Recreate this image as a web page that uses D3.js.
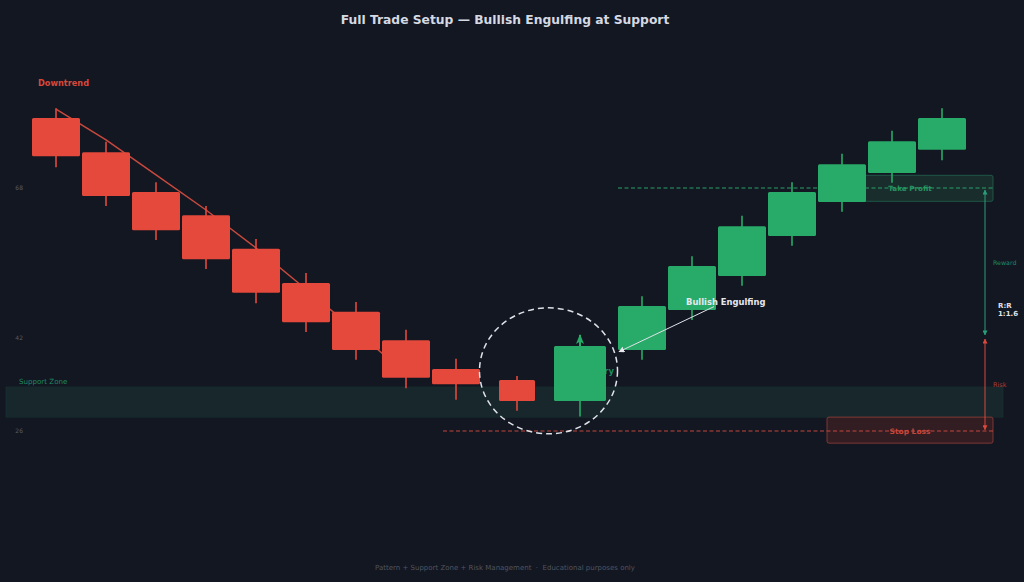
<!DOCTYPE html>
<html>
<head>
<meta charset="utf-8">
<script src="https://cdn.jsdelivr.net/npm/d3@7"></script>
<style>
  html, body { margin: 0; padding: 0; background: #131722; }
  svg { display: block; }
  text { font-family: "DejaVu Sans", sans-serif; }
  .axis text { font-size: 6px; fill: #565b68; }
</style>
</head>
<body>
<svg id="chart" width="1024" height="582"></svg>
<script>
// candle positions along the time axis (the gaps widen around the pattern)
const slots = [0, 1, 2, 3, 4, 5, 6, 7, 8, 9.22, 10.48, 11.72, 12.72, 13.72, 14.72, 15.72, 16.72, 17.72];
const opens = [80.1, 74.2, 67.3, 63.3, 57.5, 51.6, 46.6, 41.7, 36.7, 34.8, 31.2, 40.0, 46.9, 52.8, 59.7, 65.6, 70.6, 74.6];
const closes = [73.5, 66.6, 60.7, 55.7, 49.9, 44.8, 40.0, 35.2, 34.1, 31.2, 40.7, 47.6, 54.5, 61.4, 67.3, 72.1, 76.1, 80.1];
const highs = [81.8, 76.0, 69.0, 64.9, 59.2, 53.3, 48.3, 43.5, 38.5, 35.5, 40.7, 49.3, 56.2, 63.2, 69.0, 73.9, 77.9, 81.8];
const lows = [71.6, 64.9, 59.0, 54.0, 48.1, 43.1, 38.3, 33.4, 31.4, 29.5, 28.5, 38.3, 45.2, 51.1, 58.0, 63.9, 68.9, 72.8];
const trendValues = [81.65, 76.3, 70.25, 64.2, 57.63, 50.5, 43.3, 35.9];
const yTicks = [68, 42, 26];

const takeProfit = 68;
const stopLoss = 26;
const supportZone = [28.4, 33.6];
const takeProfitBox = [65.7, 70.2];
const stopLossBox = [23.9, 28.4];

const RED = '#e4493b';
const GREEN = '#28ab68';
const BG = '#131722';

const svg = d3.select('#chart');
const x = d3.scaleLinear().domain([0, 1]).range([56, 106]);
const y = d3.scaleLinear().domain([26, 68]).range([431, 188]);

svg.append('rect').attr('width', 1024).attr('height', 582).attr('fill', BG);

const defs = svg.append('defs');
function addHead(id, color, size, shape) {
  defs.append('marker')
    .attr('id', id)
    .attr('viewBox', '0 0 10 10')
    .attr('refX', 9)
    .attr('refY', 5)
    .attr('markerUnits', 'userSpaceOnUse')
    .attr('markerWidth', size)
    .attr('markerHeight', size)
    .attr('orient', 'auto-start-reverse')
    .append('path')
    .attr('d', shape || 'M0,0L10,5L0,10Z')
    .attr('fill', color);
}
addHead('headGreen', '#2a9d78', 5);
addHead('headRed', '#d9483b', 5);
addHead('headWhite', '#e6e8ee', 6);
addHead('headEntry', GREEN, 10, 'M0,1L10,5L0,9L2.5,5Z');

// price labels, no axis line or ticks
svg.append('g')
  .attr('class', 'axis')
  .attr('transform', 'translate(23,-0.5)')
  .call(d3.axisLeft(y).tickValues(yTicks).tickSize(0).tickPadding(0))
  .call(g => g.select('.domain').remove());

// support zone
svg.append('rect')
  .attr('x', x(-1))
  .attr('y', y(supportZone[1]))
  .attr('width', x(18.94) - x(-1))
  .attr('height', y(supportZone[0]) - y(supportZone[1]))
  .attr('fill', '#17272b')
  .attr('stroke', '#1a3534')
  .attr('stroke-width', 0.6);

svg.append('text')
  .attr('x', 19)
  .attr('y', 384)
  .attr('font-size', 7.1)
  .attr('fill', '#1f8a62')
  .text('Support Zone');

svg.append('text')
  .attr('x', 38)
  .attr('y', 86)
  .attr('font-size', 8.2)
  .attr('font-weight', 'bold')
  .attr('fill', '#d9483b')
  .text('Downtrend');

// take profit / stop loss boxes
svg.append('rect')
  .attr('x', x(15.42))
  .attr('y', y(takeProfitBox[1]))
  .attr('width', x(18.74) - x(15.42))
  .attr('height', y(takeProfitBox[0]) - y(takeProfitBox[1]))
  .attr('rx', 2)
  .attr('fill', '#192d2c')
  .attr('stroke', '#23664f')
  .attr('stroke-width', 0.8);

svg.append('rect')
  .attr('x', x(15.42))
  .attr('y', y(stopLossBox[1]))
  .attr('width', x(18.74) - x(15.42))
  .attr('height', y(stopLossBox[0]) - y(stopLossBox[1]))
  .attr('rx', 2)
  .attr('fill', '#311d22')
  .attr('stroke', '#96403a')
  .attr('stroke-width', 0.8);

svg.append('text')
  .attr('x', x(17.08))
  .attr('y', y(takeProfit) + 3)
  .attr('text-anchor', 'middle')
  .attr('font-size', 7.2)
  .attr('font-weight', 'bold')
  .attr('fill', '#27935f')
  .text('Take Profit');

svg.append('text')
  .attr('x', x(17.08))
  .attr('y', y(stopLoss) + 3)
  .attr('text-anchor', 'middle')
  .attr('font-size', 7.5)
  .attr('font-weight', 'bold')
  .attr('fill', '#c9453a')
  .text('Stop Loss');

svg.append('line')
  .attr('x1', x(11.24))
  .attr('x2', x(18.74))
  .attr('y1', y(takeProfit))
  .attr('y2', y(takeProfit))
  .attr('stroke', '#28a068')
  .attr('stroke-width', 1)
  .attr('stroke-dasharray', '4,2.5');

svg.append('line')
  .attr('x1', x(7.74))
  .attr('x2', x(18.74))
  .attr('y1', y(stopLoss))
  .attr('y2', y(stopLoss))
  .attr('stroke', '#c4473d')
  .attr('stroke-width', 1)
  .attr('stroke-dasharray', '4,2.5');

// trend line sits behind the candles
const trendLine = d3.line()
  .x((d, i) => x(slots[i]))
  .y(d => y(d));

svg.append('path')
  .datum(trendValues)
  .attr('fill', 'none')
  .attr('stroke', '#c8493d')
  .attr('stroke-width', 1.5)
  .attr('d', trendLine);

// mostly covered by the engulfing candle in the original too
svg.append('text')
  .attr('x', 614)
  .attr('y', 374)
  .attr('text-anchor', 'end')
  .attr('font-size', 8.5)
  .attr('font-weight', 'bold')
  .attr('fill', '#1f8a62')
  .text('Entry');

// candles
const bodyWidth = i => (i === 9 ? 36 : i === 10 ? 52 : 48);
const candles = svg.append('g')
  .selectAll('g')
  .data(slots)
  .join('g')
  .attr('fill', (d, i) => (closes[i] >= opens[i] ? GREEN : RED))
  .attr('stroke', (d, i) => (closes[i] >= opens[i] ? GREEN : RED));

candles.append('line')
  .attr('x1', d => x(d))
  .attr('x2', d => x(d))
  .attr('y1', (d, i) => y(highs[i]))
  .attr('y2', (d, i) => y(lows[i]))
  .attr('stroke-width', 1.6);

candles.append('rect')
  .attr('x', (d, i) => x(d) - bodyWidth(i) / 2)
  .attr('y', (d, i) => y(Math.max(opens[i], closes[i])))
  .attr('width', (d, i) => bodyWidth(i))
  .attr('height', (d, i) => Math.abs(y(opens[i]) - y(closes[i])))
  .attr('rx', 1.5)
  .attr('stroke', 'none');

// entry arrow on top of the big candle
svg.append('line')
  .attr('x1', x(10.48))
  .attr('x2', x(10.48))
  .attr('y1', y(40.7))
  .attr('y2', y(42.6))
  .attr('stroke', GREEN)
  .attr('stroke-width', 2)
  .attr('marker-end', 'url(#headEntry)');

// reward / risk
svg.append('line')
  .attr('x1', x(18.58))
  .attr('x2', x(18.58))
  .attr('y1', y(42.6))
  .attr('y2', y(67.65))
  .attr('stroke', '#2a9d78')
  .attr('stroke-width', 1)
  .attr('marker-start', 'url(#headGreen)')
  .attr('marker-end', 'url(#headGreen)');

svg.append('line')
  .attr('x1', x(18.58))
  .attr('x2', x(18.58))
  .attr('y1', y(26.2))
  .attr('y2', y(41.9))
  .attr('stroke', '#d9483b')
  .attr('stroke-width', 1)
  .attr('marker-start', 'url(#headRed)')
  .attr('marker-end', 'url(#headRed)');

svg.append('text')
  .attr('x', 993)
  .attr('y', 265)
  .attr('font-size', 6.3)
  .attr('fill', '#1f8a62')
  .text('Reward');

svg.append('text')
  .attr('x', 993)
  .attr('y', 387)
  .attr('font-size', 6.5)
  .attr('fill', '#a83f38')
  .text('Risk');

svg.append('text')
  .attr('x', 998)
  .attr('y', 308)
  .attr('font-size', 7)
  .attr('font-weight', 'bold')
  .attr('fill', '#e0e3ea')
  .text('R:R');

svg.append('text')
  .attr('x', 998)
  .attr('y', 316)
  .attr('font-size', 7)
  .attr('font-weight', 'bold')
  .attr('fill', '#e0e3ea')
  .text('1:1.6');

// pattern highlight, wider than tall
svg.append('ellipse')
  .attr('cx', x(9.85))
  .attr('cy', y(36.4))
  .attr('rx', 69)
  .attr('ry', 63)
  .attr('fill', 'none')
  .attr('stroke', '#dfe2e8')
  .attr('stroke-width', 1.5)
  .attr('stroke-dasharray', '6,4');

svg.append('line')
  .attr('x1', x(13.16))
  .attr('y1', y(47.5))
  .attr('x2', x(11.26))
  .attr('y2', y(39.7))
  .attr('stroke', '#dfe2e8')
  .attr('stroke-width', 1)
  .attr('marker-end', 'url(#headWhite)');

svg.append('text')
  .attr('x', 686)
  .attr('y', 305)
  .attr('font-size', 8.4)
  .attr('font-weight', 'bold')
  .attr('fill', '#e6e8ee')
  .text('Bullish Engulfing');

svg.append('text')
  .attr('x', 505)
  .attr('y', 24)
  .attr('text-anchor', 'middle')
  .attr('font-size', 12.3)
  .attr('font-weight', 'bold')
  .attr('fill', '#d5d9e2')
  .text('Full Trade Setup — Bullish Engulfing at Support');

svg.append('text')
  .attr('x', 505)
  .attr('y', 570)
  .attr('text-anchor', 'middle')
  .attr('font-size', 7)
  .attr('fill', '#50545f')
  .attr('xml:space', 'preserve')
  .style('white-space', 'pre')
  .text('Pattern + Support Zone + Risk Management  ·  Educational purposes only');
</script>
</body>
</html>
